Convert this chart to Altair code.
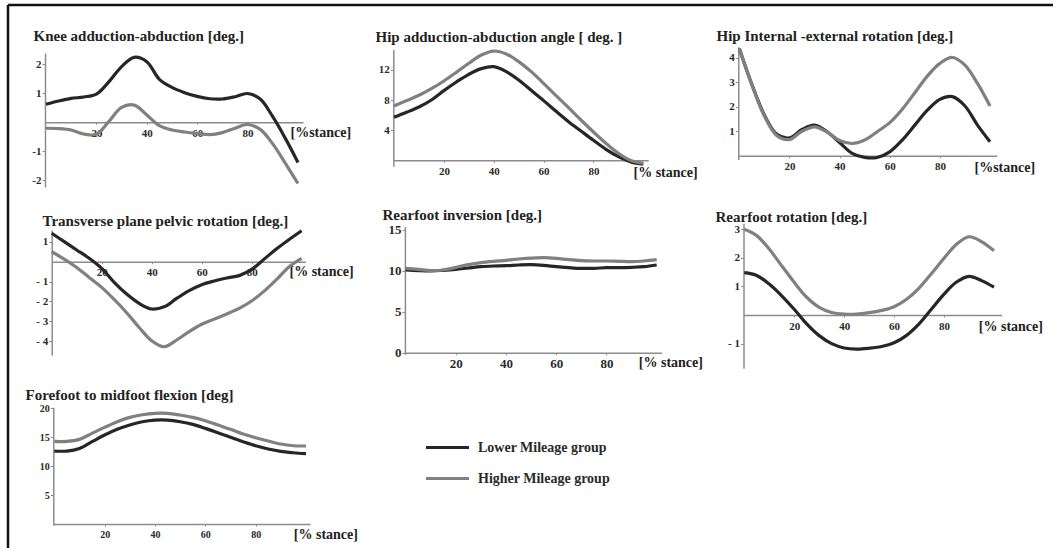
import altair as alt
import pandas as pd

# ---------------- data ----------------
stance = [0, 5, 10, 15, 20, 25, 30, 35, 40, 45, 50, 55, 60, 65, 70, 75, 80, 85, 90, 95, 100]
groups = ["Lower Mileage group", "Higher Mileage group"]

knee_lower = [0.62, 0.73, 0.82, 0.87, 0.97, 1.40, 1.92, 2.24, 2.09, 1.48, 1.20, 1.02, 0.89, 0.81, 0.80, 0.88, 0.99, 0.80, 0.19, -0.56, -1.39]
knee_higher = [-0.21, -0.22, -0.27, -0.41, -0.42, 0.03, 0.51, 0.59, 0.25, -0.12, -0.27, -0.34, -0.39, -0.43, -0.36, -0.21, -0.08, -0.25, -0.75, -1.42, -2.12]

hipadd_lower = [5.71, 6.37, 7.08, 8.01, 9.25, 10.40, 11.42, 12.17, 12.43, 11.77, 10.66, 9.29, 7.92, 6.50, 5.13, 3.89, 2.65, 1.46, 0.49, -0.22, -0.53]
hipadd_higher = [7.21, 7.92, 8.63, 9.51, 10.53, 11.68, 12.88, 13.98, 14.51, 14.12, 13.10, 11.77, 10.22, 8.58, 6.99, 5.35, 3.76, 2.26, 0.93, -0.04, -0.40]

hiprot_lower = [4.38, 2.91, 1.66, 0.87, 0.73, 1.07, 1.25, 0.98, 0.54, 0.10, -0.07, -0.07, 0.16, 0.64, 1.25, 1.86, 2.30, 2.41, 2.03, 1.25, 0.57]
hiprot_higher = [4.38, 2.91, 1.62, 0.82, 0.66, 1.00, 1.18, 0.97, 0.62, 0.50, 0.64, 0.98, 1.35, 1.90, 2.57, 3.25, 3.77, 4.01, 3.70, 2.95, 2.03]

pelvis_lower = [1.43, 1.01, 0.59, 0.17, -0.34, -1.04, -1.63, -2.10, -2.38, -2.27, -1.85, -1.46, -1.16, -0.97, -0.82, -0.70, -0.39, 0.13, 0.65, 1.12, 1.56]
pelvis_higher = [0.50, 0.13, -0.29, -0.79, -1.29, -1.90, -2.57, -3.31, -3.98, -4.28, -3.94, -3.52, -3.15, -2.89, -2.63, -2.35, -1.98, -1.48, -0.89, -0.25, 0.17]

inversion_lower = [10.08, 10.00, 9.96, 10.04, 10.16, 10.33, 10.49, 10.57, 10.61, 10.69, 10.73, 10.65, 10.49, 10.37, 10.28, 10.28, 10.37, 10.37, 10.41, 10.49, 10.69]
inversion_higher = [10.28, 10.16, 10.00, 10.08, 10.41, 10.73, 10.98, 11.14, 11.26, 11.42, 11.54, 11.59, 11.50, 11.34, 11.22, 11.18, 11.18, 11.14, 11.10, 11.18, 11.34]

rearrot_lower = [1.48, 1.38, 1.08, 0.67, 0.20, -0.31, -0.72, -1.00, -1.15, -1.19, -1.16, -1.10, -0.97, -0.71, -0.31, 0.21, 0.73, 1.15, 1.35, 1.20, 0.97]
rearrot_higher = [2.99, 2.77, 2.30, 1.72, 1.14, 0.62, 0.27, 0.09, 0.03, 0.03, 0.08, 0.16, 0.29, 0.55, 0.94, 1.45, 1.98, 2.47, 2.73, 2.56, 2.24]

forefoot_lower = [12.62, 12.62, 13.08, 14.24, 15.39, 16.37, 17.12, 17.69, 17.98, 17.98, 17.69, 17.23, 16.54, 15.79, 14.99, 14.24, 13.54, 12.97, 12.56, 12.33, 12.16]
forefoot_higher = [14.29, 14.29, 14.64, 15.68, 16.71, 17.69, 18.44, 18.90, 19.14, 19.14, 18.85, 18.44, 17.87, 17.12, 16.37, 15.56, 14.93, 14.35, 13.83, 13.54, 13.49]

x_ticks = [20, 40, 60, 80]

# ---------------- layout / style ----------------
OX, OY = 8, 5          # page position of the view origin (frame corner)
W, H = 1045, 543       # view size
FONT = "Liberation Serif"
COLORS = ["#262626", "#808080"]

legend = alt.Legend(
    orient="none", legendX=416, legendY=419, title=None,
    symbolType="stroke", symbolSize=1849, symbolStrokeWidth=3.2,
    labelFont=FONT, labelFontSize=14, labelFontWeight="bold", labelColor="#2a2a2a",
    labelOffset=7, rowPadding=-4.5,
)


def panel(lower, higher, title, title_pos, xtitle, xtitle_pos, xdom, xpx, ydom, ypx,
          zero_y, yvals, label_expr=None, label_size=11):
    n = len(stance)
    df = pd.DataFrame({
        "stance": stance + stance,
        "value": lower + higher,
        "group": [groups[0]] * n + [groups[1]] * n,
    })
    ykw = dict(
        orient="left", values=yvals, offset=-(xpx[0] - OX),
        title=title, titleX=title_pos[0] - xpx[0], titleY=title_pos[1] - OY,
        titleAngle=0, titleAlign="left", titleBaseline="alphabetic", titleFontSize=15,
        labelFontSize=label_size, tickSize=3, labelPadding=1,
    )
    if label_expr:
        ykw["labelExpr"] = label_expr
    xaxis = alt.Axis(
        orient="bottom", values=x_ticks, offset=zero_y - OY - H,
        title=xtitle, titleX=xtitle_pos[0] - OX, titleY=xtitle_pos[1] - zero_y,
        titleAngle=0, titleAlign="left", titleBaseline="alphabetic", titleFontSize=14,
        labelFontSize=label_size, tickSize=2, labelPadding=3, labelFlush=False,
    )
    return alt.Chart(df).mark_line(strokeWidth=3.2, interpolate="catmull-rom").encode(
        x=alt.X("stance:Q", axis=xaxis,
                scale=alt.Scale(domain=xdom, range=[xpx[0] - OX, xpx[1] - OX], nice=False, zero=False)),
        y=alt.Y("value:Q", axis=alt.Axis(**ykw),
                scale=alt.Scale(domain=ydom, range=[ypx[0] - OY, ypx[1] - OY], nice=False, zero=False)),
        color=alt.Color("group:N", scale=alt.Scale(domain=groups, range=COLORS), legend=legend),
    )


neg1 = "datum.value < 0 ? '-' + abs(datum.value) : datum.label"
neg2 = "datum.value < 0 ? '- ' + abs(datum.value) : datum.label"

p1 = panel(knee_lower, knee_higher, "Knee adduction-abduction [deg.]", (33, 40),
           "[%stance]", (290, 136), [-0.4, 102], (45, 303), [-2.24, 2.39], (187, 53),
           122.2, [-2, -1, 1, 2], neg1)
p2 = panel(hipadd_lower, hipadd_higher, "Hip adduction-abduction angle [ deg. ]", (375, 41.7),
           "[% stance]", (633, 176.7), [-0.3, 102], (393.3, 648.3), [-0.8, 14.7], (166.3, 49.6),
           160.3, [4, 8, 12])
p3 = panel(hiprot_lower, hiprot_higher, "Hip Internal -external rotation [deg.]", (716, 40),
           "[%stance]", (974, 171.7), [-0.4, 102.7], (738.3, 996.8), [-0.15, 4.45], (159.4, 46.7),
           155.7, [1, 2, 3, 4])
p4 = panel(pelvis_lower, pelvis_higher, "Transverse plane pelvic rotation [deg.]", (42, 225),
           "[% stance]", (289, 275), [0, 101.5], (51.7, 305.4), [-4.7, 1.6], (355.1, 229.9),
           261.7, [-4, -3, -2, -1, 1], neg2)
p5 = panel(inversion_lower, inversion_higher, "Rearfoot inversion [deg.]", (382, 219.3),
           "[% stance]", (638.3, 366.7), [-0.3, 102], (404.9, 661.7), [-0.2, 15.4], (354.3, 226.4),
           352.7, [0, 5, 10, 15], None, 13)
p6 = panel(rearrot_lower, rearrot_higher, "Rearfoot rotation [deg.]", (715, 221),
           "[% stance]", (978.3, 330), [-0.3, 103], (743.5, 1001.5), [-1.86, 3.2], (368.3, 223.3),
           315, [-1, 1, 2, 3], neg2)
p7 = panel(forefoot_lower, forefoot_higher, "Forefoot to midfoot flexion [deg]", (25, 399.5),
           "[% stance]", (293.3, 538.3), [-0.4, 101.6], (53.3, 310.0), [-0.2, 20.2], (525.2, 407.2),
           524, [5, 10, 15, 20], None, 10)

chart = (
    alt.layer(p1, p2, p3, p4, p5, p6, p7)
    .resolve_scale(x="independent", y="independent")
    .properties(
        width=W, height=H,
        padding={"left": OX, "top": OY, "right": 2, "bottom": 2},
        autosize=alt.AutoSizeParams(type="none"),
        background="white",
    )
    .configure_view(stroke="#111111", strokeWidth=2.5, strokeDash=[W, W + H, H, 0])
    .configure_axis(
        grid=False, domainColor="#8c8c8c", domainWidth=1.5, tickColor="#8c8c8c", tickWidth=1,
        labelFont=FONT, labelFontWeight="bold", labelColor="#2a2a2a",
        titleFont=FONT, titleFontWeight="bold", titleColor="#222222",
    )
)

chart.save("out.html", embed_options={"renderer": "svg", "actions": False})
